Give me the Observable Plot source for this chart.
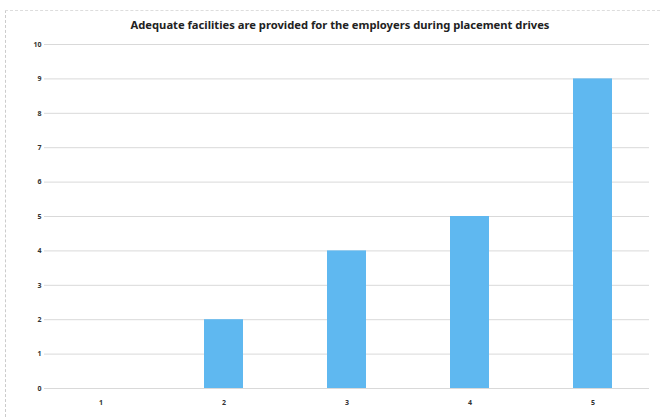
<!DOCTYPE html>
<html><head><meta charset="utf-8">
<script src="https://cdn.jsdelivr.net/npm/d3@7"></script>
<script src="https://cdn.jsdelivr.net/npm/@observablehq/plot@0.6"></script>
<style>
body{margin:0;background:#fff;}
#wrap{position:relative;width:660px;height:417px;}
#title{height:34px;box-sizing:border-box;padding-top:17px;text-align:center;font-family:"Noto Sans",sans-serif;font-weight:bold;font-size:11.2px;color:#222;padding-left:20px;}
#frame{position:absolute;left:5px;top:10px;right:0;bottom:0;border-left:1px dashed #ccc;border-top:1px dashed #ddd;pointer-events:none;}
</style></head>
<body><div id="wrap"><div id="frame"></div><div id="title">Adequate facilities are provided for the employers during placement drives</div><div id="chart"></div></div>
<script>
const categories = ["1","2","3","4","5"];
const values = [0, 2, 4, 5, 9];
const yTicks = [0,1,2,3,4,5,6,7,8,9,10];
const data = categories.map((c,i)=>({cat:c, value:values[i]}));
const plot = Plot.plot({
  width: 660, height: 383,
  marginLeft: 44, marginRight: 11, marginTop: 10, marginBottom: 29,
  style: {fontFamily: "'Noto Sans', sans-serif", fontSize: "7px", fontWeight: "bold", color: "#333", background: "transparent"},
  x: {domain: categories, paddingInner: 0.68, paddingOuter: 0.29, label: null, tickSize: 0, tickPadding: 12},
  y: {domain: [0, 10], ticks: yTicks, label: null, tickSize: 0, tickPadding: 3},
  marks: [
    Plot.ruleY(yTicks, {stroke: "#d9d9d9", strokeWidth: 1}),
    Plot.barY(data, {x: "cat", y: "value", fill: "#5fb8f0"}),
    Plot.axisX({tickSize: 0, tickPadding: 12, label: null}),
    Plot.axisY({ticks: yTicks, tickSize: 0, tickPadding: 3, label: null})
  ]
});
document.getElementById("chart").appendChild(plot);
</script></body></html>
